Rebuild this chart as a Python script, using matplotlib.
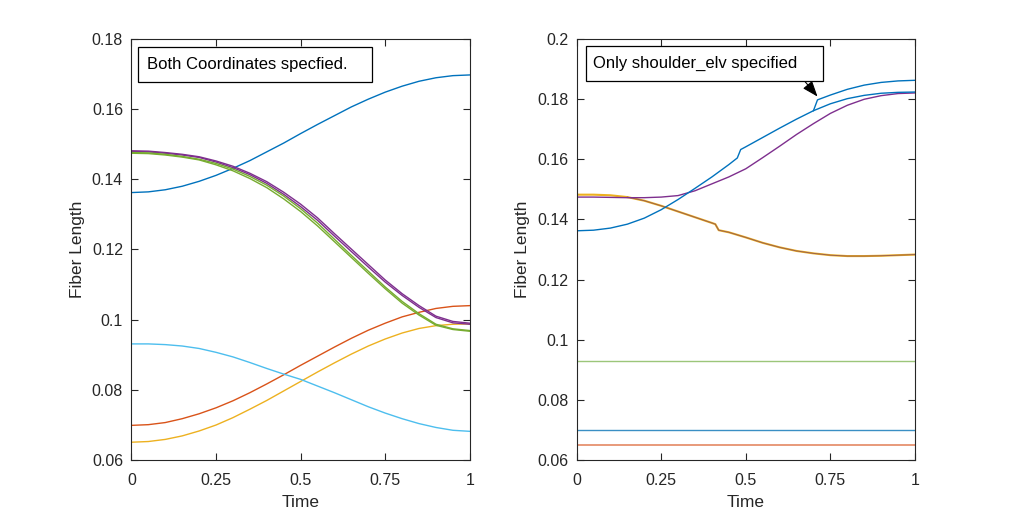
import numpy as np
import matplotlib.pyplot as plt
from matplotlib.patches import Rectangle

plt.rcParams['font.family'] = ['Liberation Sans', 'DejaVu Sans']

# ==========================
# Data
# ==========================
t = [0, .05, .1, .15, .2, .25, .3, .35, .4, .45, .5,
     .55, .6, .65, .7, .75, .8, .85, .9, .95, 1]

# left panel: both coordinates specified
left_blue = [0.1362, 0.1364, 0.1370, 0.1380, 0.1394, 0.1411, 0.1431, 0.1453, 0.1478, 0.1503, 0.1530,
             0.1556, 0.1581, 0.1606, 0.1628, 0.1648, 0.1665, 0.1679, 0.1689, 0.1695, 0.1697]
left_red = [0.0699, 0.0701, 0.0707, 0.0718, 0.0732, 0.0749, 0.0769, 0.0792, 0.0817, 0.0843, 0.0870,
            0.0896, 0.0922, 0.0947, 0.0970, 0.0990, 0.1008, 0.1021, 0.1032, 0.1038, 0.1040]
left_yellow = [0.0651, 0.0653, 0.0659, 0.0669, 0.0683, 0.0700, 0.0721, 0.0745, 0.0770, 0.0797, 0.0824,
               0.0851, 0.0877, 0.0902, 0.0925, 0.0945, 0.0962, 0.0975, 0.0983, 0.0987, 0.0988]
left_purple1 = [0.1481, 0.1480, 0.1476, 0.1471, 0.1464, 0.1452, 0.1437, 0.1417, 0.1393, 0.1363, 0.1329,
                0.1290, 0.1245, 0.1201, 0.1157, 0.1113, 0.1074, 0.1040, 0.1010, 0.0995, 0.0990]
left_purple2 = [0.1479, 0.1478, 0.1474, 0.1469, 0.1462, 0.1449, 0.1433, 0.1413, 0.1388, 0.1357, 0.1322,
                0.1283, 0.1238, 0.1194, 0.1150, 0.1107, 0.1069, 0.1035, 0.1006, 0.0991, 0.0987]
left_green1 = [0.1476, 0.1475, 0.1471, 0.1465, 0.1457, 0.1445, 0.1429, 0.1408, 0.1383, 0.1352, 0.1316,
               0.1275, 0.1229, 0.1183, 0.1138, 0.1093, 0.1052, 0.1017, 0.0987, 0.0974, 0.0969]
left_green2 = [0.1474, 0.1473, 0.1469, 0.1463, 0.1455, 0.1441, 0.1424, 0.1402, 0.1376, 0.1344, 0.1308,
               0.1267, 0.1222, 0.1177, 0.1132, 0.1088, 0.1047, 0.1013, 0.0984, 0.0972, 0.0967]
left_cyan = [0.0931, 0.0931, 0.0929, 0.0925, 0.0918, 0.0907, 0.0894, 0.0878, 0.0861, 0.0845, 0.0830,
             0.0811, 0.0792, 0.0772, 0.0752, 0.0734, 0.0718, 0.0704, 0.0693, 0.0685, 0.0682]

# right panel: only shoulder_elv specified
t_blue = [0, .05, .1, .15, .2, .25, .3, .35, .4, .45, .475, .485, .5,
          .55, .6, .65, .7, .75, .8, .85, .9, .95, 1]
right_blue_low = [0.1362, 0.1364, 0.1371, 0.1384, 0.1404, 0.1432, 0.1466, 0.1503, 0.1541, 0.1582, 0.1604, 0.1632, 0.1641,
                  0.1672, 0.1703, 0.1733, 0.1761, 0.1784, 0.1801, 0.1812, 0.1819, 0.1822, 0.1823]
t_blue_up = [.7, .712, .75, .8, .85, .9, .95, 1]
right_blue_up = [0.1761, 0.1797, 0.1813, 0.1832, 0.1846, 0.1855, 0.1860, 0.1862]
right_purple = [0.1474, 0.1474, 0.1473, 0.1472, 0.1472, 0.1474, 0.1479, 0.1495, 0.1518, 0.1541, 0.1568,
                0.1605, 0.1643, 0.1682, 0.1718, 0.1752, 0.1779, 0.1799, 0.1811, 0.1818, 0.1820]
t_orange = [0, .05, .1, .15, .2, .25, .3, .35, .4, .41, .42, .45, .5,
            .55, .6, .65, .7, .75, .8, .85, .9, .95, 1]
right_orange = [0.1482, 0.1482, 0.1480, 0.1474, 0.1462, 0.1445, 0.1426, 0.1407, 0.1388, 0.1384, 0.1364, 0.1357, 0.1340,
                0.1322, 0.1307, 0.1295, 0.1287, 0.1281, 0.1278, 0.1278, 0.1279, 0.1281, 0.1283]
t_flat = [0, 1]
right_green = [0.0931, 0.0931]
right_blue_flat = [0.0699, 0.0699]
right_salmon = [0.0651, 0.0651]

# MATLAB colours
c_blue = '#0072BD'
c_red = '#D95319'
c_yellow = '#EDB120'
c_purple = '#7E2F8E'
c_green = '#77AC30'
c_cyan = '#4DBEEE'
ax_col = '#262626'

fig = plt.figure(figsize=(10.11, 5.17), dpi=100)
ax1 = fig.add_axes([0.13, 0.11, 0.3347, 0.815])
ax2 = fig.add_axes([0.5703, 0.11, 0.3347, 0.815])

lw = 1.0
ax1.plot(t, left_blue, color=c_blue, lw=lw)
ax1.plot(t, left_red, color=c_red, lw=lw)
ax1.plot(t, left_yellow, color=c_yellow, lw=lw)
ax1.plot(t, left_purple1, color=c_purple, lw=lw)
ax1.plot(t, left_purple2, color=c_purple, lw=lw)
ax1.plot(t, left_green1, color=c_green, lw=lw)
ax1.plot(t, left_green2, color=c_green, lw=lw)
ax1.plot(t, left_cyan, color=c_cyan, lw=lw)

ax2.plot(t_flat, right_green, color='#9cc67a', lw=lw)
ax2.plot(t_flat, right_blue_flat, color='#3a8fc4', lw=lw)
ax2.plot(t_flat, right_salmon, color='#e89a7a', lw=1.4)
ax2.plot(t_orange, right_orange, color=c_yellow, lw=1.5)
ax2.plot(t_orange[3:], right_orange[3:], color='#7a4060', lw=0.7, alpha=0.7)
ax2.plot(t, right_purple, color=c_purple, lw=lw)
ax2.plot(t_blue, right_blue_low, color=c_blue, lw=lw)
ax2.plot(t_blue_up, right_blue_up, color=c_blue, lw=lw)

for ax, ylim, yt in [(ax1, (0.06, 0.18), [0.06, 0.08, 0.1, 0.12, 0.14, 0.16, 0.18]),
                     (ax2, (0.06, 0.2), [0.06, 0.08, 0.1, 0.12, 0.14, 0.16, 0.18, 0.2])]:
    ax.set_xlim(0, 1)
    ax.set_ylim(*ylim)
    ax.set_xticks([0, 0.25, 0.5, 0.75, 1])
    ax.set_xticklabels(['0', '0.25', '0.5', '0.75', '1'])
    ax.set_yticks(yt)
    ax.set_yticklabels([('%g' % v) for v in yt])
    ax.tick_params(direction='in', top=True, right=True, length=5, width=0.8,
                   colors=ax_col, labelsize=11.5, pad=6)
    ax.tick_params(axis='x', pad=9)
    for s in ax.spines.values():
        s.set_color(ax_col)
        s.set_linewidth(0.8)
    ax.set_xlabel('Time', fontsize=12.5, color=ax_col, labelpad=5)
    ax.set_ylabel('Fiber Length', fontsize=12.5, color=ax_col, labelpad=5)

# text boxes
ax1.add_patch(Rectangle((0.018, 0.898), 0.692, 0.0833, transform=ax1.transAxes,
                        fc='white', ec='k', lw=0.9, zorder=5))
ax1.text(0.045, 0.94, 'Both Coordinates specfied.', transform=ax1.transAxes,
         fontsize=12, va='center', ha='left', zorder=6)

ax2.add_patch(Rectangle((0.027, 0.9007), 0.700, 0.0833, transform=ax2.transAxes,
                        fc='white', ec='k', lw=0.9, zorder=5))
ax2.text(0.05, 0.942, 'Only shoulder_elv specified', transform=ax2.transAxes,
         fontsize=12, va='center', ha='left', zorder=6)

ax2.annotate('', xy=(0.712, 0.1808), xytext=(0.672, 0.1862),
             arrowprops=dict(arrowstyle='-|>,head_length=0.8,head_width=0.3', color='k', lw=0.8,
                             mutation_scale=12, shrinkA=0, shrinkB=0))

plt.savefig('out.png', dpi=100)
plt.close()
